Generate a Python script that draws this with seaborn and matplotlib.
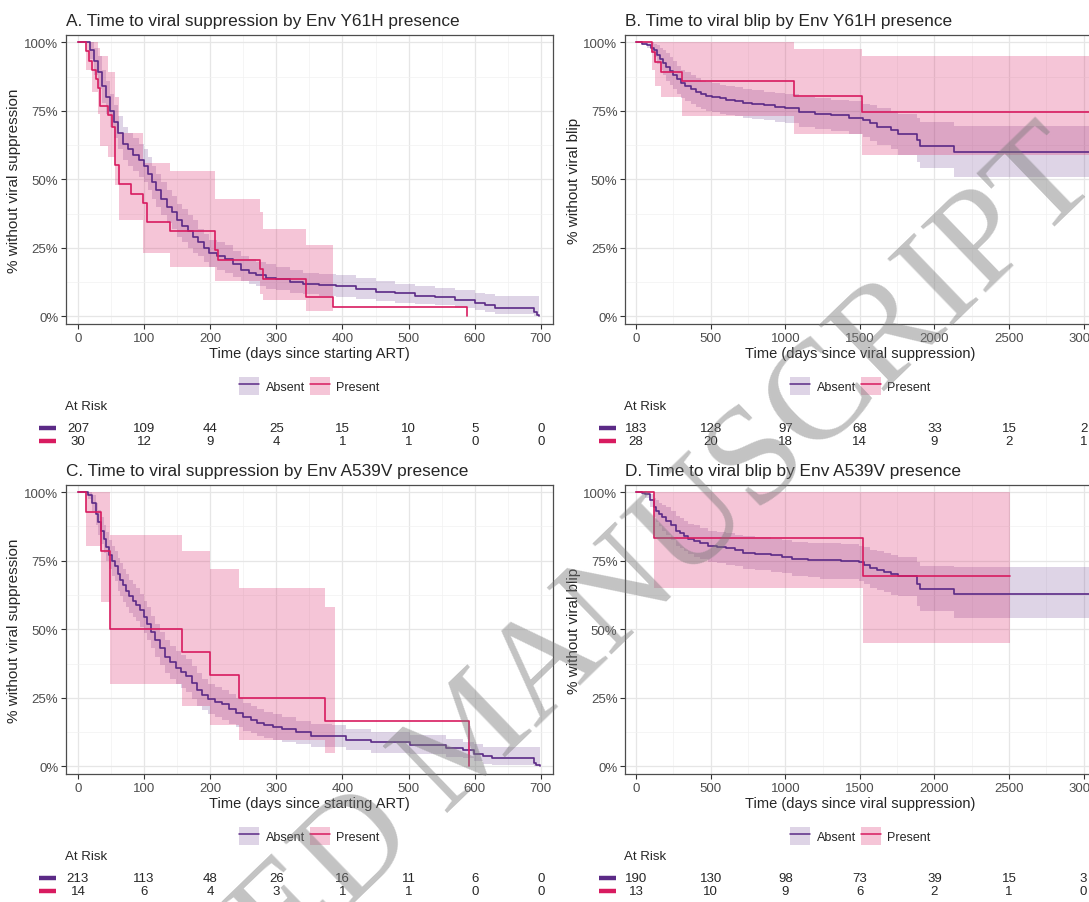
import numpy as np
import pandas as pd
import seaborn as sns
import matplotlib
matplotlib.use('Agg')
import matplotlib.pyplot as plt
from matplotlib.lines import Line2D
from matplotlib.patches import Patch
from matplotlib.ticker import MultipleLocator, FixedLocator, FuncFormatter

# ---------------- data (survival in %) ----------------
# A: time to viral suppression, Env Y61H
a_abs_t = [0, 18, 24, 30, 36, 42, 48, 54, 60, 68,
           76, 84, 92, 100, 106, 112, 118, 126, 134, 142,
           150, 158, 166, 174, 182, 190, 198, 210, 222, 234,
           246, 258, 270, 285, 300, 320, 340, 365, 390, 420,
           450, 480, 510, 540, 570, 600, 615, 630, 690, 694,
           697]
a_abs_s = [100, 97, 93, 89, 84, 80, 75, 71, 67, 63,
           61, 59, 57, 55, 52, 49, 46, 43, 40, 38,
           35, 33, 31, 29, 27, 25, 23, 22, 21, 19,
           17, 16, 15, 14, 13.5, 12.5, 12, 11.5, 11, 10,
           9, 8.5, 7.5, 7, 6, 5, 4, 3, 1.5, 0.5,
           0]
a_abs_hi = [100, 100, 98, 95, 90, 86, 81, 77, 73, 69,
            67, 65, 63, 61, 58, 55, 52, 49, 46, 44,
            41, 39, 37, 35, 32, 30, 28, 27, 26, 24,
            22, 21, 20, 19, 18, 17, 16, 15.5, 15, 14,
            13, 12, 11, 10.5, 9.5, 8.5, 8, 7.5, 7.5, 7.5,
            7.5]
a_abs_lo = [100, 94, 88, 83, 78, 74, 69, 65, 61, 57,
            55, 53, 51, 49, 46, 43, 40, 37, 34, 32,
            29, 27, 25, 23, 22, 20, 18, 17, 16, 14.5,
            13, 12, 11, 10, 9.5, 8.5, 8, 7.5, 7, 6.5,
            5.5, 5, 4.5, 4, 3, 2.5, 1.5, 1, 0, 0,
            0]
a_pre_t = [0, 13, 17, 22, 27, 31, 34, 46, 52, 56, 62, 80, 99, 104, 140, 207, 212, 275, 280, 345, 385, 588]
a_pre_s = [100, 96.7, 93.3, 90, 86.7, 83.3, 76.7, 73.3, 69, 55.2, 48.3, 44.8, 41.4, 34.5, 31, 24.1, 20.7, 17.2, 13.8, 6.9, 3.4, 0]
a_pre_band_t = [0, 13, 22, 31, 34, 46, 56, 62, 99, 140, 207, 275, 280, 345, 385]
a_pre_hi = [100, 100, 100, 98, 95, 89, 80, 67, 56, 53, 43, 38, 32, 26, 26]
a_pre_lo = [100, 90, 82, 74, 62, 58, 48, 35, 23, 18, 13, 8, 6, 2, 2]
a_risk_x = [0, 100, 200, 300, 400, 500, 600, 700]
a_risk_abs = [207, 109, 44, 25, 15, 10, 5, 0]
a_risk_pre = [30, 12, 9, 4, 1, 1, 0, 0]

# B: time to viral blip, Env Y61H
b_abs_t = [0, 40, 70, 100, 120, 140, 160, 180, 200, 225,
           250, 275, 300, 330, 365, 400, 435, 470, 506, 560,
           600, 660, 718, 780, 859, 930, 1000, 1060, 1094, 1200,
           1306, 1424, 1518, 1565, 1612, 1706, 1753, 1882, 1906, 2129,
           3100]
b_abs_s = [100, 99.5, 99, 98, 97, 95.5, 94, 92.5, 91, 89.5,
           88, 86.5, 85, 84, 83, 82, 81, 80.5, 80, 79.5,
           79, 78.5, 78, 77.5, 77, 76.5, 76, 76, 74.5, 74,
           73.5, 72.5, 71.5, 70.5, 69, 68, 66.5, 64.5, 62, 60,
           60]
b_abs_hi = [100, 100, 100, 100, 99.5, 99, 98, 97, 96, 94.5,
            93, 91.5, 90, 89, 88, 87, 86, 85.5, 85, 84.5,
            84, 83.5, 83, 82.5, 82, 81.5, 81, 81, 80, 79.5,
            79, 78.5, 77.5, 77, 76, 75, 74, 72.5, 71, 69.5,
            69.5]
b_abs_lo = [100, 99, 98, 96, 94.5, 92, 90, 88, 86, 84.5,
            83, 81, 79.5, 78.5, 77.5, 76.5, 75.5, 75, 74.5, 74,
            73.5, 73, 72.5, 72, 71.5, 71, 70.5, 70.5, 69, 68.5,
            67.5, 66.5, 65.5, 64, 62.5, 61, 59, 56.5, 54, 51,
            51]
b_pre_t = [0, 106, 129, 165, 306, 1059, 1513, 3100]
b_pre_s = [100, 96.4, 92.9, 89.3, 85.7, 80.5, 74.6, 74.6]
b_pre_band_t = [0, 106, 129, 165, 306, 1059, 1513, 3100]
b_pre_hi = [100, 100, 100, 100, 100, 97.5, 95, 95]
b_pre_lo = [100, 90, 84, 80, 73, 66.5, 59, 59]
b_risk_x = [0, 500, 1000, 1500, 2000, 2500, 3000]
b_risk_abs = [183, 128, 97, 68, 33, 15, 2]
b_risk_pre = [28, 20, 18, 14, 9, 2, 1]

# C: time to viral suppression, Env A539V
c_abs_t = [0, 16, 21, 27, 31, 35, 39, 43, 47, 51,
           56, 60, 64, 68, 73, 78, 83, 88, 94, 100,
           105, 110, 116, 124, 132, 140, 148, 156, 164, 172,
           180, 188, 196, 207, 218, 228, 239, 250, 261, 271,
           282, 295, 309, 330, 352, 384, 406, 443, 502, 556,
           583, 599, 613, 626, 690, 693, 698]
c_abs_s = [100, 99, 96, 92, 89, 86, 83, 80, 77, 75,
           73, 70, 68, 66, 64, 62, 60.5, 59, 57, 54.5,
           52, 49, 46, 43, 40, 38, 36, 34.5, 33, 30.5,
           28, 26, 24.4, 23.5, 22.6, 21, 19.5, 18, 17, 16,
           15.2, 14.3, 13.7, 12.4, 11.2, 11, 9.8, 8.8, 7.9, 6.7,
           5.9, 4.6, 3.8, 3, 1.2, 0.5, 0]
c_abs_hi = [100, 100, 99, 96, 93.5, 91, 88, 85.5, 82.5, 80.5,
            78.5, 76, 74, 72, 70, 68, 66.5, 65, 63, 60.5,
            58, 55, 52, 49, 46, 44, 42, 40.5, 39, 36.5,
            34, 32, 30, 29, 28, 26.5, 25, 23, 22, 21,
            20, 19, 18, 16.5, 15.5, 15, 13.5, 12.5, 11.5, 10,
            9, 8, 7, 7, 7, 7, 7]
c_abs_lo = [100, 97.5, 93, 88, 84.5, 81, 78, 75, 72, 69.5,
            67.5, 64, 62, 60, 58, 56, 54.5, 53, 51, 48.5,
            46, 43, 40, 37, 34, 32, 30, 28.5, 27, 24.5,
            22, 20.5, 19, 18, 17, 15.5, 14.5, 13, 12, 11,
            10.5, 9.5, 9, 8, 7, 7, 6, 5, 4.5, 3.5,
            3, 2, 1, 0.5, 0, 0, 0]
c_pre_t = [0, 13, 35, 48, 157, 200, 243, 373, 592]
c_pre_s = [100, 92.9, 78.6, 50, 41.7, 33.3, 25, 16.7, 0]
c_pre_band_t = [0, 13, 35, 48, 157, 200, 243, 373, 388]
c_pre_hi = [100, 100, 100, 84.4, 78.6, 72, 65, 58, 58]
c_pre_lo = [100, 80.5, 60, 30, 22.2, 15.2, 9.8, 4.9, 4.9]
c_risk_x = [0, 100, 200, 300, 400, 500, 600, 700]
c_risk_abs = [213, 113, 48, 26, 16, 11, 6, 0]
c_risk_pre = [14, 6, 4, 3, 1, 1, 0, 0]

# D: time to viral blip, Env A539V
d_abs_t = [0, 40, 59, 94, 118, 135, 153, 175, 200, 235,
           270, 295, 318, 350, 388, 430, 482, 540, 600, 660,
           718, 800, 906, 980, 1047, 1150, 1235, 1376, 1494, 1529,
           1565, 1612, 1659, 1706, 1753, 1882, 1906, 2129, 3100]
d_abs_s = [100, 99.7, 99.4, 97, 94.5, 93, 92, 91, 89.6, 88,
           86, 85, 84, 83, 82.3, 81.5, 80.5, 80, 79.5, 79,
           78, 77.5, 77, 76.5, 75.6, 75.4, 75.2, 75, 74.4, 73.4,
           72.2, 71.5, 71, 70, 69.5, 66.5, 64.6, 62.8, 62.8]
d_abs_hi = [100, 100, 100, 99.5, 98, 97, 96, 95.5, 94.5, 93,
            91.5, 90.5, 89.5, 88.5, 88, 87, 86, 85.5, 85, 84.5,
            84, 83.5, 83, 82.5, 82, 81.5, 81.5, 81, 80.5, 80,
            79, 78.5, 78, 77, 76.5, 74.5, 73, 72.6, 72.6]
d_abs_lo = [100, 99, 98, 94.5, 91, 89, 87.5, 86, 84.5, 82.5,
            80.5, 79.5, 78.5, 77.5, 76.5, 75.5, 74.5, 74, 73.5, 73,
            72, 71.5, 71, 70.5, 69.5, 69, 68.5, 68.5, 67.5, 66.5,
            65, 64.5, 63.5, 62.5, 62, 58.5, 56.5, 54.3, 54.3]
d_pre_t = [0, 122, 1520, 2506]
d_pre_s = [100, 83.3, 69.4, 69.4]
d_pre_band_t = [0, 122, 1520, 2506]
d_pre_hi = [100, 100, 100, 100]
d_pre_lo = [100, 65.2, 45, 45]
d_risk_x = [0, 500, 1000, 1500, 2000, 2500, 3000]
d_risk_abs = [190, 130, 98, 73, 39, 15, 3]
d_risk_pre = [13, 10, 9, 6, 2, 1, 0]

groups = ['Absent', 'Present']
y_ticks = [0, 25, 50, 75, 100]

# ---------------- style ----------------
sns.set_theme(style='whitegrid')
plt.rcParams['font.family'] = ['Liberation Sans', 'DejaVu Sans']

PURPLE = '#5B2A86'
PINK = '#D81B60'
pal = {'Absent': PURPLE, 'Present': PINK}

fig = plt.figure(figsize=(10.89, 9.03), dpi=100)


def km_panel(pos, title, xlabel, ylabel, xlim, xstep,
             abs_t, abs_s, abs_lo, abs_hi,
             pre_t, pre_s, pre_bt, pre_lo, pre_hi,
             risk_x, risk_abs, risk_pre):
    ax = fig.add_axes(pos)
    ax.fill_between(abs_t, abs_lo, abs_hi, step='post', color=PURPLE, alpha=0.2, lw=0, zorder=1)
    ax.fill_between(pre_bt, pre_lo, pre_hi, step='post', color=PINK, alpha=0.25, lw=0, zorder=1)
    df = pd.concat([
        pd.DataFrame({'t': abs_t, 's': abs_s, 'grp': 'Absent'}),
        pd.DataFrame({'t': pre_t, 's': pre_s, 'grp': 'Present'}),
    ])
    sns.lineplot(data=df, x='t', y='s', hue='grp', palette=pal, estimator=None,
                 sort=False, drawstyle='steps-post', lw=1.2, legend=False, ax=ax, zorder=3)

    ax.set_xlim(*xlim)
    ax.set_ylim(-2.8, 102.6)
    ax.xaxis.set_major_locator(MultipleLocator(xstep))
    ax.xaxis.set_minor_locator(MultipleLocator(xstep / 2))
    ax.yaxis.set_major_locator(FixedLocator(y_ticks))
    ax.yaxis.set_minor_locator(FixedLocator([12.5, 37.5, 62.5, 87.5]))
    ax.yaxis.set_major_formatter(FuncFormatter(lambda v, p: f'{v:.0f}%'))
    ax.grid(which='major', color='#E6E6E6', lw=0.9)
    ax.grid(which='minor', color='#F1F1F1', lw=0.5)
    ax.set_axisbelow(True)
    for sp in ax.spines.values():
        sp.set_color('#4D4D4D')
        sp.set_linewidth(0.9)
    ax.tick_params(which='major', length=3.5, width=0.8, color='#333333',
                   labelsize=9.5, labelcolor='#4D4D4D', pad=2, bottom=True, left=True)
    ax.tick_params(which='minor', length=0)

    ax.set_title(title, loc='left', fontsize=12.4, pad=7)
    ax.set_xlabel(xlabel, fontsize=10.5, labelpad=2)
    ax.set_ylabel(ylabel, fontsize=11, labelpad=2)

    handles = [(Patch(facecolor=PURPLE, alpha=0.2, edgecolor='none'), Line2D([], [], color=PURPLE, lw=1.1)),
               (Patch(facecolor=PINK, alpha=0.25, edgecolor='none'), Line2D([], [], color=PINK, lw=1.1))]
    ax.legend(handles, groups, loc='center', bbox_to_anchor=(0.5, -0.215), ncol=2, frameon=False,
              fontsize=9, handlelength=1.6, handleheight=1.8, columnspacing=0.4, handletextpad=0.5)

    # at-risk table
    ax.text(-0.003, -0.284, 'At Risk', transform=ax.transAxes, ha='left', va='center', fontsize=9.5)
    blend = matplotlib.transforms.blended_transform_factory(ax.transData, ax.transAxes)
    for yy, counts, col in [(-0.361, risk_abs, PURPLE), (-0.406, risk_pre, PINK)]:
        ax.plot([-0.056, -0.02], [yy, yy], transform=ax.transAxes, color=col, lw=3.2,
                clip_on=False, solid_capstyle='butt')
        for x, n in zip(risk_x, counts):
            ax.text(x, yy, str(n), transform=blend, ha='center', va='center', fontsize=9.5)
    return ax


km_panel([0.0606, 0.640, 0.447, 0.320], 'A. Time to viral suppression by Env Y61H presence',
         'Time (days since starting ART)', '% without viral suppression', (-18, 718), 100,
         a_abs_t, a_abs_s, a_abs_lo, a_abs_hi, a_pre_t, a_pre_s, a_pre_band_t, a_pre_lo, a_pre_hi,
         a_risk_x, a_risk_abs, a_risk_pre)
km_panel([0.574, 0.640, 0.432, 0.320], 'B. Time to viral blip by Env Y61H presence',
         'Time (days since viral suppression)', '% without viral blip', (-74, 3080), 500,
         b_abs_t, b_abs_s, b_abs_lo, b_abs_hi, b_pre_t, b_pre_s, b_pre_band_t, b_pre_lo, b_pre_hi,
         b_risk_x, b_risk_abs, b_risk_pre)
km_panel([0.0606, 0.1417, 0.447, 0.320], 'C. Time to viral suppression by Env A539V presence',
         'Time (days since starting ART)', '% without viral suppression', (-18, 718), 100,
         c_abs_t, c_abs_s, c_abs_lo, c_abs_hi, c_pre_t, c_pre_s, c_pre_band_t, c_pre_lo, c_pre_hi,
         c_risk_x, c_risk_abs, c_risk_pre)
km_panel([0.574, 0.1417, 0.432, 0.320], 'D. Time to viral blip by Env A539V presence',
         'Time (days since viral suppression)', '% without viral blip', (-74, 3080), 500,
         d_abs_t, d_abs_s, d_abs_lo, d_abs_hi, d_pre_t, d_pre_s, d_pre_band_t, d_pre_lo, d_pre_hi,
         d_risk_x, d_risk_abs, d_risk_pre)

# watermark
fig.text(0.435, 0.18, 'ACCEPTED MANUSCRIPT', rotation=44, rotation_mode='anchor',
         ha='center', va='center', fontsize=102, family='Liberation Serif',
         color='#7A7A7A', alpha=0.45, zorder=20)

fig.savefig('out.png', dpi=100)
